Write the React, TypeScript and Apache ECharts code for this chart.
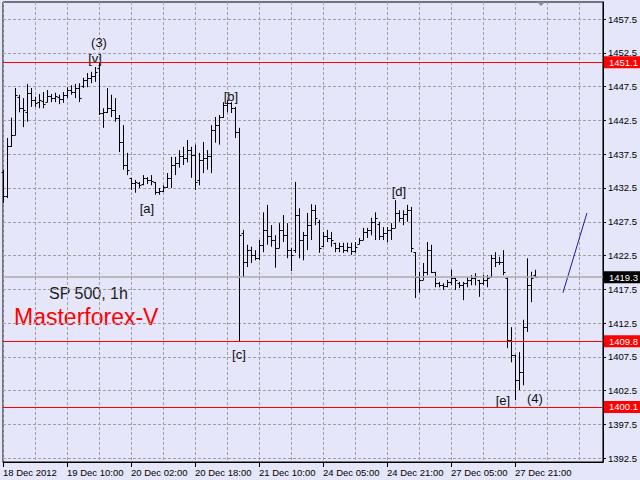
import React, { useEffect, useRef } from 'react';
import * as echarts from 'echarts';

// ---------- data ----------
const xTickLabels = ['18 Dec 2012', '19 Dec 10:00', '20 Dec 02:00', '20 Dec 18:00', '21 Dec 10:00', '24 Dec 05:00', '24 Dec 21:00', '27 Dec 05:00', '27 Dec 21:00'];
const yTicks = [1392.5, 1397.5, 1402.5, 1407.5, 1412.5, 1417.5, 1422.5, 1427.5, 1432.5, 1437.5, 1442.5, 1447.5, 1452.5, 1457.5];

const opens = [
  1434.9, 1431.3, 1438.7, 1440.3, 1446.0, 1444.3, 1443.7, 1446.6, 1445.5, 1445.2,
  1445.4, 1445.2, 1446.1, 1445.8, 1446.0, 1445.7, 1446.3, 1447.0, 1446.7, 1447.3,
  1447.6, 1448.5, 1448.8, 1449.1, 1450.3, 1443.6, 1443.7, 1444.3, 1444.0, 1442.9,
  1439.3, 1435.9, 1434.0, 1433.2, 1433.2, 1433.1, 1434.0, 1433.7, 1433.4, 1431.9,
  1432.1, 1432.6, 1434.0, 1435.9, 1436.2, 1437.2, 1436.9, 1438.1, 1437.4, 1433.7,
  1436.6, 1436.9, 1437.2, 1441.1, 1441.8, 1443.0, 1444.8, 1445.1, 1444.3, 1440.8,
  1425.8, 1421.5, 1423.3, 1422.6, 1422.1, 1424.1, 1426.3, 1425.4, 1424.8, 1423.6,
  1426.3, 1425.5, 1423.3, 1423.3, 1428.5, 1424.8, 1425.5, 1427.0, 1429.2, 1427.5,
  1423.9, 1425.4, 1425.1, 1424.4, 1423.6, 1423.9, 1423.3, 1423.8, 1423.2, 1424.2,
  1424.8, 1426.0, 1426.3, 1427.5, 1427.2, 1425.4, 1425.8, 1426.3, 1426.6, 1428.8,
  1428.1, 1428.7, 1429.2, 1423.0, 1419.3, 1418.9, 1420.1, 1423.3, 1420.1, 1418.4,
  1418.1, 1418.0, 1418.6, 1419.2, 1418.4, 1418.1, 1418.4, 1418.9, 1419.2, 1418.9,
  1418.4, 1418.9, 1419.3, 1422.1, 1421.5, 1421.5, 1419.2, 1410.0, 1407.8, 1404.1,
  1405.3, 1411.9, 1418.1, 1419.6,
];
const highs = [
  1435.2, 1439.9, 1442.9, 1447.3, 1446.3, 1445.8, 1447.9, 1447.3, 1446.0, 1446.4,
  1446.7, 1447.0, 1446.4, 1446.6, 1446.3, 1446.7, 1447.4, 1447.7, 1447.9, 1448.0,
  1448.8, 1449.5, 1449.7, 1450.4, 1451.1, 1444.3, 1447.3, 1446.3, 1445.8, 1443.3,
  1441.8, 1437.7, 1434.0, 1433.7, 1433.4, 1434.4, 1434.1, 1434.4, 1433.4, 1432.5,
  1432.9, 1434.7, 1437.1, 1437.1, 1438.1, 1438.6, 1439.6, 1438.6, 1438.9, 1437.7,
  1439.3, 1438.1, 1441.8, 1443.0, 1443.3, 1445.2, 1445.5, 1445.2, 1444.5, 1441.4,
  1426.3, 1424.1, 1423.8, 1423.3, 1424.8, 1428.9, 1430.0, 1427.0, 1425.5, 1427.3,
  1428.5, 1427.3, 1423.6, 1433.4, 1429.5, 1426.0, 1428.8, 1430.1, 1430.0, 1427.8,
  1426.0, 1426.3, 1426.0, 1424.4, 1424.4, 1424.4, 1424.4, 1424.4, 1424.5, 1425.1,
  1426.6, 1426.6, 1428.1, 1428.9, 1427.5, 1426.7, 1426.7, 1427.3, 1430.7, 1429.2,
  1429.2, 1430.0, 1429.7, 1423.0, 1420.1, 1421.4, 1424.5, 1424.1, 1420.1, 1418.6,
  1418.4, 1418.9, 1420.4, 1419.2, 1418.6, 1418.6, 1419.3, 1419.6, 1419.9, 1418.9,
  1419.6, 1419.6, 1422.6, 1423.0, 1422.3, 1423.3, 1419.3, 1411.9, 1407.8, 1408.2,
  1413.0, 1422.1, 1420.1, 1420.4,
];
const lows = [
  1430.3, 1431.0, 1438.6, 1440.3, 1443.7, 1441.5, 1442.3, 1444.5, 1444.5, 1444.3,
  1444.3, 1445.2, 1445.2, 1445.2, 1444.9, 1445.1, 1445.8, 1446.3, 1445.8, 1445.2,
  1447.3, 1447.4, 1448.0, 1448.2, 1443.3, 1441.4, 1443.6, 1443.0, 1442.3, 1437.8,
  1435.2, 1434.4, 1432.2, 1431.8, 1432.5, 1432.9, 1433.1, 1432.9, 1431.5, 1431.5,
  1431.9, 1432.5, 1432.5, 1434.4, 1435.5, 1435.9, 1436.3, 1434.0, 1432.2, 1432.9,
  1434.7, 1435.2, 1434.7, 1439.2, 1438.9, 1442.9, 1443.7, 1443.6, 1439.9, 1409.8,
  1419.3, 1420.8, 1421.4, 1421.8, 1421.8, 1423.0, 1424.1, 1423.8, 1420.7, 1423.6,
  1424.5, 1422.1, 1420.2, 1422.9, 1422.1, 1421.8, 1423.3, 1424.8, 1427.0, 1422.9,
  1423.8, 1424.5, 1423.8, 1423.0, 1423.0, 1422.9, 1423.0, 1422.6, 1422.9, 1424.2,
  1424.8, 1425.1, 1425.5, 1424.8, 1424.8, 1424.8, 1424.5, 1424.8, 1426.6, 1427.5,
  1427.0, 1427.5, 1423.0, 1416.2, 1417.0, 1418.9, 1419.6, 1419.9, 1417.8, 1417.8,
  1417.4, 1417.8, 1418.1, 1417.4, 1417.7, 1415.9, 1417.8, 1418.1, 1418.1, 1416.4,
  1418.1, 1417.8, 1419.3, 1420.8, 1421.1, 1419.6, 1408.8, 1406.7, 1401.1, 1402.6,
  1403.3, 1411.2, 1415.6, 1419.3,
];
const closes = [
  1431.3, 1438.7, 1440.3, 1446.3, 1444.3, 1444.0, 1446.6, 1445.5, 1445.1, 1445.5,
  1444.9, 1446.1, 1445.8, 1446.1, 1445.7, 1446.3, 1447.0, 1446.7, 1447.3, 1445.8,
  1448.5, 1448.8, 1449.1, 1449.7, 1443.6, 1443.7, 1444.3, 1444.0, 1442.9, 1439.3,
  1435.9, 1435.2, 1433.2, 1433.4, 1432.9, 1434.0, 1433.7, 1433.5, 1431.9, 1432.1,
  1432.6, 1434.0, 1435.9, 1436.2, 1437.2, 1436.9, 1438.1, 1437.4, 1433.4, 1436.6,
  1436.9, 1437.2, 1441.1, 1441.8, 1443.0, 1444.8, 1445.1, 1444.3, 1440.8, 1425.5,
  1421.5, 1423.3, 1422.6, 1422.1, 1424.1, 1426.3, 1425.4, 1424.8, 1423.6, 1426.3,
  1425.5, 1423.3, 1422.6, 1428.5, 1424.8, 1425.5, 1427.0, 1429.2, 1428.1, 1423.6,
  1425.4, 1425.1, 1424.8, 1423.6, 1423.9, 1423.3, 1423.8, 1423.2, 1423.8, 1424.8,
  1426.0, 1426.3, 1427.5, 1428.1, 1425.4, 1425.8, 1426.3, 1426.6, 1428.8, 1428.1,
  1428.7, 1429.2, 1423.6, 1419.3, 1418.9, 1420.1, 1423.3, 1420.1, 1418.4, 1418.1,
  1418.0, 1418.6, 1419.2, 1418.9, 1418.1, 1418.4, 1418.9, 1419.2, 1419.5, 1418.4,
  1418.9, 1419.2, 1422.1, 1421.5, 1421.5, 1420.1, 1410.0, 1407.8, 1404.1, 1405.3,
  1411.9, 1418.1, 1419.2, 1419.3,
];

const redLevels = [1451.1, 1409.8, 1400.1];
const currentPrice = 1419.3;

const forecastIdx = [140, 146];
const forecastVals = [1417.0, 1428.8];

const annotationTexts = ['(3)', '[v]', '[b]', '[a]', '[c]', '[d]', '[e]', '(4)'];
const annotationIdx = [24, 23, 57, 36, 59, 99, 125, 133];
const annotationVals = [1454.1, 1451.7, 1446.1, 1429.5, 1407.9, 1432.0, 1401.0, 1401.3];

const SLOTS = 151;
const LABEL_EVERY = 16;
const GRID_EVERY = 8;

// ---------- chart ----------
const SANS = '"Liberation Sans", Arial, sans-serif';
const AXIS_FONT_SIZE = 9.5;

const categories = Array.from({ length: SLOTS }, (_, i) => String(i));
const ohlc = opens.map((o, i) => [i, o, highs[i], lows[i], closes[i]]);

const labelInterval = (index: number) => index % LABEL_EVERY === 0 && index / LABEL_EVERY < xTickLabels.length;

function buildOption(): any {
  return {
    animation: false,
    backgroundColor: '#E6E6FA',
    grid: {
      left: 3, right: 37, top: 2, bottom: 18,
      show: true, borderColor: '#000', borderWidth: 1, backgroundColor: 'transparent',
    },
    xAxis: {
      type: 'category',
      data: categories,
      boundaryGap: false,
      axisLine: { show: true, lineStyle: { color: '#000', width: 1 } },
      axisTick: { show: true, interval: labelInterval, length: 5, lineStyle: { color: '#000' } },
      axisLabel: {
        interval: labelInterval,
        formatter: (_v: string, i: number) => xTickLabels[i / LABEL_EVERY] ?? '',
        align: 'left',
        margin: 5,
        fontSize: AXIS_FONT_SIZE,
        color: '#000',
        fontFamily: SANS,
      },
      splitLine: {
        show: true,
        interval: (i: number) => i % GRID_EVERY === 0,
        lineStyle: { color: '#A0A0A0', type: [3, 2], width: 1 },
      },
    },
    yAxis: {
      type: 'value',
      position: 'right',
      min: 1391.95,
      max: 1460.02,
      axisLine: { show: true, lineStyle: { color: '#000' } },
      axisTick: { show: true, customValues: yTicks, length: 3, lineStyle: { color: '#000' } },
      axisLabel: {
        customValues: yTicks,
        formatter: (v: number) => v.toFixed(1),
        margin: 5,
        fontSize: AXIS_FONT_SIZE,
        color: '#000',
        fontFamily: SANS,
      },
      splitLine: { show: true, lineStyle: { color: '#A0A0A0', type: [3, 2], width: 1 } },
    },
    series: [
      {
        type: 'line',
        z: 1,
        data: forecastIdx.map((x, i) => [x, forecastVals[i]]),
        symbol: 'none',
        lineStyle: { color: '#1C1CA8', width: 1 },
        silent: true,
        markLine: {
          silent: true,
          symbol: 'none',
          animation: false,
          label: {
            show: true,
            position: 'end',
            distance: 1,
            formatter: (p: any) => Number(p.value).toFixed(1),
            color: '#fff',
            fontSize: AXIS_FONT_SIZE,
            fontFamily: SANS,
            padding: [1, 5, 1, 5],
          },
          data: [
            ...redLevels.map((v) => ({
              yAxis: v,
              lineStyle: { color: '#FF0000', width: 1, type: 'solid' },
              label: { backgroundColor: '#FF0000' },
            })),
            {
              yAxis: currentPrice,
              lineStyle: { color: '#A8A8A8', width: 1.5, type: 'solid' },
              label: { backgroundColor: '#000' },
            },
          ],
        },
      },
      {
        type: 'custom',
        z: 3,
        data: ohlc,
        encode: { x: 0, y: [1, 2, 3, 4] },
        renderItem: (_params: any, api: any) => {
          const idx = api.value(0);
          const pO = api.coord([idx, api.value(1)]);
          const pH = api.coord([idx, api.value(2)]);
          const pL = api.coord([idx, api.value(3)]);
          const pC = api.coord([idx, api.value(4)]);
          const x = Math.round(pH[0]) + 0.5;
          const yo = Math.round(pO[1]) + 0.5;
          const yc = Math.round(pC[1]) + 0.5;
          const style = { stroke: '#000', lineWidth: 1 };
          return {
            type: 'group',
            children: [
              { type: 'line', shape: { x1: x, y1: pH[1], x2: x, y2: pL[1] }, style },
              { type: 'line', shape: { x1: x - 2, y1: yo, x2: x, y2: yo }, style },
              { type: 'line', shape: { x1: x, y1: yc, x2: x + 2, y2: yc }, style },
            ],
          };
        },
      },
      {
        type: 'scatter',
        z: 4,
        silent: true,
        symbol: 'circle',
        symbolSize: 1,
        itemStyle: { color: 'rgba(0,0,0,0)' },
        data: annotationIdx.map((x, i) => ({ value: [x, annotationVals[i]], name: annotationTexts[i] })),
        label: {
          show: true,
          position: 'inside',
          formatter: '{b}',
          fontSize: 13,
          color: '#111',
          opacity: 1,
          textBorderWidth: 0,
          textBorderColor: 'transparent',
          fontFamily: SANS,
        },
      },
    ],
    graphic: [
      {
        type: 'text',
        x: 49,
        y: 293,
        style: { text: 'SP 500, 1h', fill: '#1a1a1a', font: '16px "Liberation Sans", Arial, sans-serif', verticalAlign: 'middle' },
      },
      {
        type: 'text',
        x: 14,
        y: 317,
        style: { text: 'Masterforex-V', fill: '#FF0000', font: '23px "Liberation Sans", Arial, sans-serif', verticalAlign: 'middle' },
      },
      {
        type: 'polygon',
        shape: { points: [[537, 2], [545, 2], [541, 6]] },
        style: { fill: '#8C8C8C' },
      },
    ],
  };
}

export default function App() {
  const ref = useRef<HTMLDivElement>(null);
  useEffect(() => {
    if (!ref.current) return;
    const chart = echarts.init(ref.current, null, { renderer: 'svg' });
    chart.setOption(buildOption());
    return () => chart.dispose();
  }, []);
  return <div ref={ref} style={{ position: 'fixed', left: 0, top: 0, width: 640, height: 480 }} />;
}
